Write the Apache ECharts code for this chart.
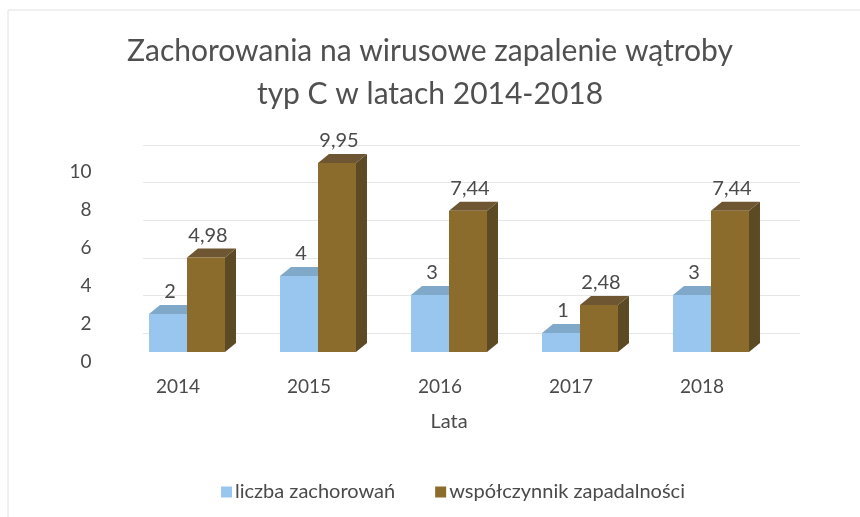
<!DOCTYPE html>
<html>
<head>
<meta charset="utf-8">
<script src="https://cdn.jsdelivr.net/npm/echarts@6/dist/echarts.min.js"></script>
<style>
  html, body { margin: 0; padding: 0; background: #fff; }
  #chart { width: 860px; height: 517px; }
</style>
</head>
<body>
<div id="chart"></div>
<script>
// dane z wykresu
var years = ['2014', '2015', '2016', '2017', '2018'];
var cases = [2, 4, 3, 1, 3];
var rates = [4.98, 9.95, 7.44, 2.48, 7.44];
var seriesNames = ['liczba zachorowań', 'współczynnik zapadalności'];

var font = 'Lato, "Open Sans", sans-serif';
var textColor = '#4a4a4a';

// kolory: przód, góra, bok
var blue = { front: '#98c6ef', top: '#7fa8c9', side: '#6f93b2' };
var brown = { front: '#8b6c2d', top: '#6d5631', side: '#5c4a24' };

var depthX = 11, depthY = 9;

function fmt(v) {
    return String(v).replace('.', ',');
}

// prostopadłościan: słupek 3D
function makeRender(colors, side) {
    return function (params, api) {
        var cat = api.value(0);
        var val = api.value(1);
        var base = api.coord([cat, 0]);
        var top = api.coord([cat, val]);
        var w = api.size([1, 0])[0] * 0.29;
        var x = side < 0 ? base[0] - w : base[0];
        var y0 = base[1], y1 = top[1];
        return {
            type: 'group',
            children: [
                {
                    type: 'polygon',
                    shape: { points: [[x + w, y1], [x + w + depthX, y1 - depthY], [x + w + depthX, y0 - depthY], [x + w, y0]] },
                    style: { fill: colors.side }
                },
                {
                    type: 'polygon',
                    shape: { points: [[x, y1], [x + w, y1], [x + w + depthX, y1 - depthY], [x + depthX, y1 - depthY]] },
                    style: { fill: colors.top }
                },
                {
                    type: 'rect',
                    shape: { x: x, y: y1, width: w, height: y0 - y1 },
                    style: { fill: colors.front }
                },
                {
                    type: 'text',
                    style: {
                        text: fmt(val),
                        x: x + w / 2 + 2,
                        y: y1 - depthY - 3,
                        textAlign: 'center',
                        textVerticalAlign: 'bottom',
                        fontSize: 20,
                        fontFamily: font,
                        fill: textColor
                    }
                }
            ]
        };
    };
}

var chart = echarts.init(document.getElementById('chart'));

var option = {
    backgroundColor: '#fff',
    animation: false,
    title: {
        text: 'Zachorowania na wirusowe zapalenie wątroby\ntyp C w latach 2014-2018',
        left: 'center',
        top: 25,
        textStyle: {
            fontFamily: font,
            fontSize: 30,
            fontWeight: 'normal',
            color: '#505050',
            lineHeight: 43
        }
    },
    legend: {
        data: seriesNames,
        top: 477,
        left: 216,
        icon: 'rect',
        itemWidth: 11,
        itemHeight: 11,
        itemGap: 40,
        textStyle: { fontFamily: font, fontSize: 20, color: textColor, padding: [0, 0, 0, -2] }
    },
    grid: [
        // przednia płaszczyzna: słupki
        { left: 121.5, right: 83.5, top: 162, bottom: 165 },
        // tylna ściana: linie siatki
        { left: 143, right: 60, top: 145, bottom: 184 }
    ],
    xAxis: [
        {
            type: 'category',
            gridIndex: 0,
            data: years,
            axisLine: { show: false },
            axisTick: { show: false },
            axisLabel: {
                fontFamily: font,
                fontSize: 19,
                color: textColor,
                margin: 25,
                padding: [0, 18, 0, 0]
            },
            name: 'Lata',
            nameLocation: 'middle',
            nameGap: 60,
            nameTextStyle: { fontFamily: font, fontSize: 20, color: textColor }
        },
        {
            type: 'category',
            gridIndex: 1,
            data: years,
            show: false
        }
    ],
    yAxis: [
        {
            type: 'value',
            gridIndex: 0,
            min: 0,
            max: 10,
            interval: 2,
            axisLine: { show: false },
            axisTick: { show: false },
            splitLine: { show: false },
            axisLabel: {
                fontFamily: font,
                fontSize: 19,
                color: textColor,
                margin: 30,
                verticalAlign: 'top'
            }
        },
        {
            type: 'value',
            gridIndex: 1,
            min: 0,
            max: 10,
            interval: 2,
            axisLine: { show: false },
            axisTick: { show: false },
            axisLabel: { show: false },
            splitLine: { show: true, lineStyle: { color: '#e6e6e6', width: 1 } }
        }
    ],
    series: [
        {
            name: seriesNames[0],
            type: 'custom',
            xAxisIndex: 0,
            yAxisIndex: 0,
            itemStyle: { color: blue.front },
            renderItem: makeRender(blue, -1),
            data: cases.map(function (v, i) { return [i, v]; })
        },
        {
            name: seriesNames[1],
            type: 'custom',
            xAxisIndex: 0,
            yAxisIndex: 0,
            itemStyle: { color: brown.front },
            renderItem: makeRender(brown, 1),
            data: rates.map(function (v, i) { return [i, v]; })
        }
    ],
    graphic: [
        { type: 'line', shape: { x1: 8, y1: 10, x2: 860, y2: 10 }, style: { stroke: '#e2e2e2', lineWidth: 1 } },
        { type: 'line', shape: { x1: 8, y1: 10, x2: 8, y2: 517 }, style: { stroke: '#e2e2e2', lineWidth: 1 } }
    ]
};

chart.setOption(option);
</script>
</body>
</html>
